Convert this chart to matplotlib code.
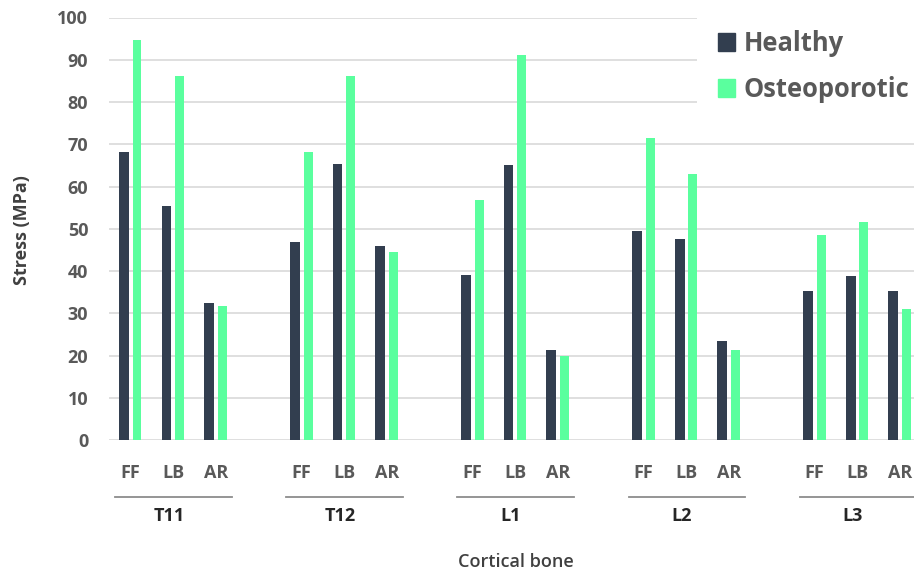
import matplotlib
matplotlib.use("Agg")
import numpy as np
import matplotlib.pyplot as plt
import matplotlib.transforms as mtransforms
from matplotlib.patches import Patch

# данные
groups = ["T11", "T12", "L1", "L2", "L3"]
subs = ["FF", "LB", "AR"]
healthy = [68.1, 55.3, 32.4, 46.9, 65.4, 46.0, 39.1, 65.2, 21.4,
           49.5, 47.5, 23.4, 35.4, 38.8, 35.2]
osteo = [94.6, 86.1, 31.8, 68.3, 86.1, 44.5, 56.9, 91.1, 19.9,
         71.4, 63.0, 21.4, 48.5, 51.6, 31.0]

c_healthy = "#323E4F"
c_osteo = "#5AFF9E"
gray = "#595959"

plt.rcParams["font.family"] = ["Open Sans", "DejaVu Sans"]

fig = plt.figure(figsize=(9.14, 5.79), dpi=100)
W, H = 914, 579
left, right = 109, 921.4
y0, y100 = 440.3, 17.5
ax = fig.add_axes([left / W, 1 - y0 / H, (right - left) / W, (y0 - y100) / H])

# позиции: пустой слот между группами
pos = np.array([g * 4 + s for g in range(len(groups)) for s in range(len(subs))])

ax.bar(pos - 0.155, healthy, width=0.23, color=c_healthy, zorder=3)
ax.bar(pos + 0.155, osteo, width=0.21, color=c_osteo, zorder=3)

ax.set_xlim(-0.5, 18.5)
ax.set_ylim(0, 100)
ax.set_yticks(np.arange(0, 101, 10))
ax.yaxis.grid(True, color="#D9D9D9", linewidth=1.2, zorder=0)
ax.set_axisbelow(True)
for sp in ax.spines.values():
    sp.set_visible(False)
ax.tick_params(axis="y", length=0, pad=15, labelsize=13, labelcolor=gray)
for t in ax.get_yticklabels():
    t.set_fontweight("bold")
ax.set_xticks([])

# подписи категорий и групп
tr = mtransforms.blended_transform_factory(ax.transData, fig.transFigure)
for i, p in enumerate(pos):
    ax.text(p, 1 - 472.7 / H, subs[i % 3], transform=tr, ha="center", va="center",
            fontsize=13, fontweight="bold", color=gray)
for g, name in enumerate(groups):
    x0 = g * 4
    ax.plot([x0 - 0.35, x0 + 2.37], [1 - 497.3 / H] * 2, transform=tr,
            color="#8C8C8C", linewidth=1.3, clip_on=False)
    ax.text(x0 + 0.9, 1 - 516 / H, name, transform=tr, ha="center", va="center",
            fontsize=13, fontweight="bold", color="#262626")

fig.text(516 / W, 1 - 561.7 / H, "Cortical bone", ha="center", va="center",
         fontsize=13, fontweight="semibold", color="#404040")
fig.text(22 / W, 1 - 230 / H, "Stress (MPa)", ha="center", va="center",
         rotation=90, fontsize=13, fontweight="bold", color="#404040")

handles = [Patch(color=c_healthy), Patch(color=c_osteo)]
leg = fig.legend(handles, ["Healthy", "Osteoporotic"], loc="upper left",
                 bbox_to_anchor=(697 / W, 1 - 9 / H), borderaxespad=0,
                 borderpad=0.82, handlelength=0.68, handleheight=0.68,
                 handletextpad=0.33, labelspacing=0.75, fontsize=18.4,
                 frameon=True, fancybox=False)
leg.get_frame().set_facecolor("white")
leg.get_frame().set_edgecolor("none")
leg.get_frame().set_alpha(1)
for t in leg.get_texts():
    t.set_fontweight("bold")
    t.set_color(gray)

fig.savefig("out.png", dpi=100)
